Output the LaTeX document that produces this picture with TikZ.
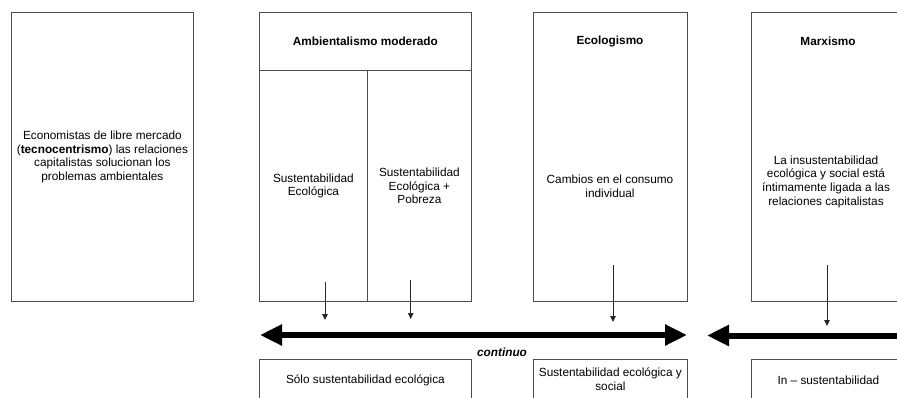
\documentclass[tikz,border=0pt]{standalone}
\usepackage{fontspec}
\setmainfont{Liberation Sans}
\usetikzlibrary{arrows.meta}
\begin{document}
\begin{tikzpicture}[x=1pt,y=-1pt,
  frame/.style={draw=black!70, line width=0.8pt, anchor=north west, inner sep=0pt,
    align=center, font=\fontsize{11.8}{13.7}\selectfont},
  lbl/.style={align=center, inner sep=0pt, font=\fontsize{11.8}{13.7}\selectfont},
  head/.style={inner sep=0pt, font=\fontsize{11.8}{13.7}\selectfont\bfseries},
  pointer/.style={draw=black!85, line width=0.9pt, -{Triangle[length=6pt,width=5.5pt]}},
  spanarrow/.style={line width=6pt, {Triangle[length=22pt,width=20pt]}-{Triangle[length=22pt,width=20pt]}},
  leftarrow/.style={line width=6pt, -{Triangle[length=22pt,width=20pt]}}
]
\useasboundingbox (0,0) rectangle (897,397);
\clip (0,0) rectangle (897,397);

% free-market column
\node[frame, minimum width=182pt, minimum height=289pt] (market) at (11,12)
  {Economistas de libre mercado\\(\textbf{tecnocentrismo}) las relaciones\\capitalistas solucionan los\\problemas ambientales};

% moderate environmentalism: header and two sub-columns
\node[frame, minimum width=212pt, minimum height=58pt] (ambhead) at (259,12)
  {\bfseries Ambientalismo moderado};
\node[frame, minimum width=108pt, minimum height=231pt] (ambeco) at (259,70)
  {Sustentabilidad\\Ecológica};
\node[frame, minimum width=104pt, minimum height=231pt] (ambpob) at (367,70)
  {Sustentabilidad\\Ecológica +\\Pobreza};

% ecologism
\node[frame, minimum width=154pt, minimum height=289pt] (eco) at (533,12) {};
\node[head] (ecohead) at (610,41) {Ecologismo};
\node[lbl] (ecotext) at (610,186) {Cambios en el consumo\\individual};

% marxism
\node[frame, minimum width=154pt, minimum height=289pt] (marx) at (751,12) {};
\node[head] (marxhead) at (828,41) {Marxismo};
\node[lbl] (marxtext) at (826,181.5) {La insustentabilidad\\ecológica y social está\\íntimamente ligada a las\\relaciones capitalistas};

% outcome boxes
\node[frame, minimum width=212pt, minimum height=42pt] (outeco) at (259,359)
  {Sólo sustentabilidad ecológica};
\node[frame, minimum width=154pt, minimum height=40pt] (outsoc) at (533,359)
  {Sustentabilidad ecológica y\\social};
\node[frame, minimum width=154pt, minimum height=42pt] (outin) at (751,359)
  {In – sustentabilidad};

% continuum arrows
\coordinate (contL) at (260,335);
\coordinate (contR) at (687,335);
\draw[spanarrow] (contL) -- (contR);
\coordinate (marxR) at (905,335.5);
\coordinate (marxL) at (707,335.5);
\draw[leftarrow] (marxR) -- (marxL);
\node[lbl, font=\fontsize{11.8}{13.7}\selectfont\bfseries\itshape] (cont) at (502,352) {continuo};

% pointers from columns onto the continuum
\coordinate (p1s) at (325,281.7); \coordinate (p1e) at (325,320);
\coordinate (p2s) at (410.7,280); \coordinate (p2e) at (410.7,319);
\coordinate (p3s) at (613,265);   \coordinate (p3e) at (613,322);
\coordinate (p4s) at (827,265);   \coordinate (p4e) at (827,326);
\draw[pointer] (p1s) -- (p1e);
\draw[pointer] (p2s) -- (p2e);
\draw[pointer] (p3s) -- (p3e);
\draw[pointer] (p4s) -- (p4e);
\end{tikzpicture}
\end{document}
